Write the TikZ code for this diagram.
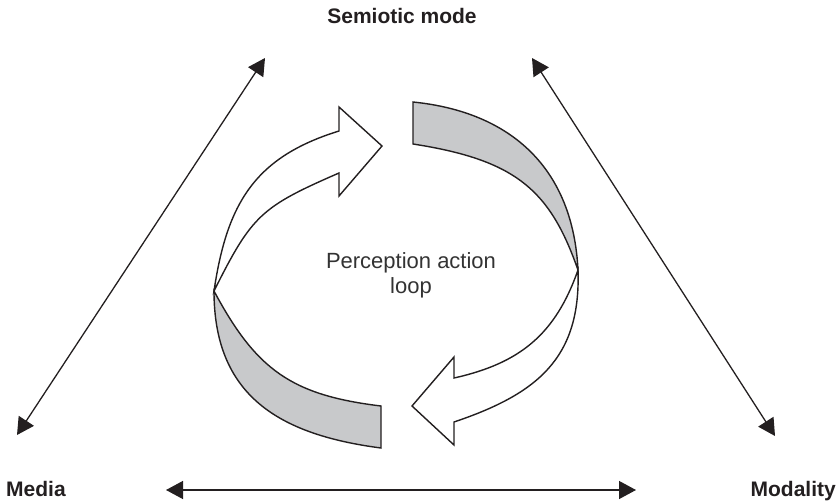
\documentclass[tikz,border=0pt]{standalone}
\usepackage{fontspec}
\setmainfont{Liberation Sans}
\usetikzlibrary{arrows.meta}
\definecolor{ink}{HTML}{231F20}
\definecolor{band}{HTML}{C8C9CB}
\definecolor{txt}{HTML}{333333}
\tikzset{
  dbl/.style={draw=ink, line width=1.3pt, {Triangle[length=17pt,width=18pt]}-{Triangle[length=17pt,width=18pt]}},
  ribbon/.style={draw=ink, line width=1.4pt, line join=miter},
  backband/.style={ribbon, fill=band},
  frontarrow/.style={ribbon, fill=white},
  lbl/.style={inner sep=0pt, text=ink, font=\fontsize{21}{25}\selectfont\bfseries},
  centrelbl/.style={inner sep=0pt, text=txt, align=center, font=\fontsize{22}{25}\selectfont},
}
\begin{document}
\begin{tikzpicture}[x=1pt,y=-1pt]
\useasboundingbox (0,0) rectangle (840,503);

% labels
\node[lbl, anchor=base] (semiotic) at (402,24) {Semiotic mode};
\node[lbl, anchor=base west] (media) at (6,496) {Media};
\node[lbl, anchor=base east] (modality) at (836,496) {Modality};
\node[centrelbl] (loop) at (411,275) {Perception action\\loop};

% arrow end points
\coordinate (lt) at (265,58);
\coordinate (lb) at (17,435);
\coordinate (rt) at (532,58);
\coordinate (rb) at (775,436);
\coordinate (hl) at (166,490);
\coordinate (hr) at (636,490);

\draw[dbl] (lb) -- (lt);
\draw[dbl] (rt) -- (rb);
\draw[dbl] (hl) -- (hr);

% back (grey) parts of the ribbon
\draw[backband] (413,102) .. controls (512,112) and (573,169) .. (578,270)
  .. controls (550,190) and (516,160) .. (413,144) -- cycle;
\draw[backband] (214,291) .. controls (214,395) and (278,434.5) .. (381,448)
  -- (381,406) .. controls (291.9,395.2) and (256.3,370.2) .. (214,291) -- cycle;

% front (white) arrows
\draw[frontarrow] (214,291) .. controls (227,203) and (255,157) .. (339,131)
  -- (339,107) -- (382,146) -- (339,196) -- (339,173)
  .. controls (261,207) and (252,215) .. (214,291) -- cycle;
\draw[frontarrow] (578,270) .. controls (581,358) and (537.6,393.8) .. (454,422)
  -- (454,445) -- (412,406) -- (454,357) -- (454,378)
  .. controls (520.4,363.2) and (555.6,333.9) .. (578,270) -- cycle;
\end{tikzpicture}
\end{document}
